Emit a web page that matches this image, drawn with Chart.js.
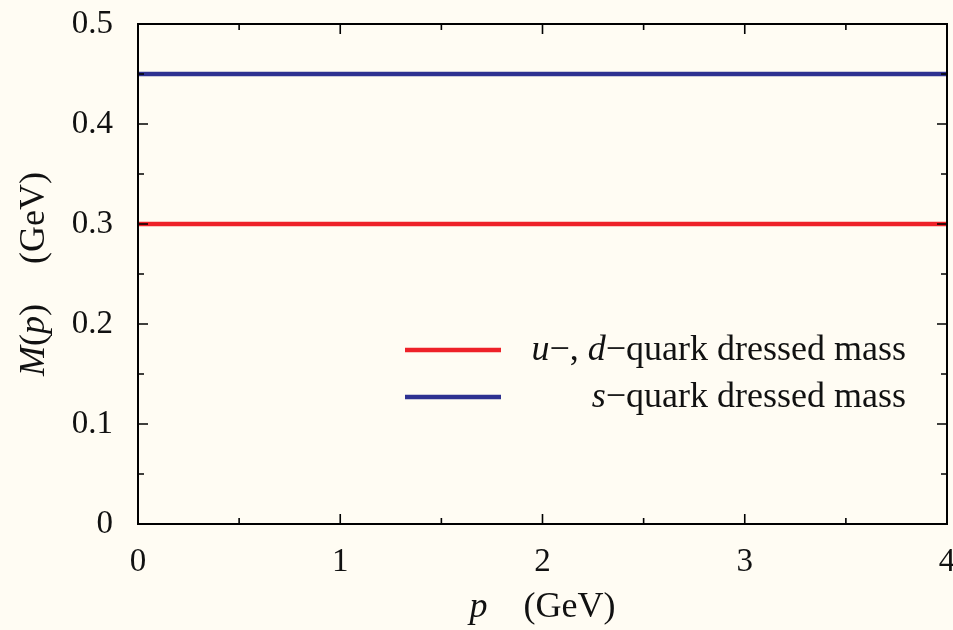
<!DOCTYPE html>
<html>
<head>
<meta charset="utf-8">
<script src="https://cdn.jsdelivr.net/npm/chart.js@4.4.1/dist/chart.umd.min.js"></script>
<style>
  html, body { margin: 0; padding: 0; background: #fffcf3; }
  #wrap { width: 953px; height: 630px; }
</style>
</head>
<body>
<div id="wrap"><canvas id="c" width="953" height="630"></canvas></div>
<script>
// data
const momenta = [0, 4];            // p (GeV)
const udMass = [0.3, 0.3];         // u-, d-quark dressed mass (GeV)
const sMass = [0.45, 0.45];        // s-quark dressed mass (GeV)
const xTicks = [0, 1, 2, 3, 4];
const yTicks = [0, 0.1, 0.2, 0.3, 0.4, 0.5];
const xMinor = [0.5, 1.5, 2.5, 3.5];
const yMinor = [0.05, 0.15, 0.25, 0.35, 0.45];

const serif = "'Liberation Serif', 'DejaVu Serif', serif";
const red = '#ee2128';
const blue = '#2e3191';

// text pieces: [text, italic] or a number = gap in px
const legendParts = [
  [['u', true], ['\u2212, ', false], ['d', true], ['\u2212quark dressed mass', false]],
  [['s', true], ['\u2212quark dressed mass', false]]
];
const xTitle = [['p', true], 36, ['(GeV)', false]];
const yTitle = [['M', true], ['(', false], ['p', true], [')', false], 40, ['(GeV)', false]];

function drawParts(ctx, parts, x, y, size, align) {
  const w = p => {
    if (typeof p === 'number') return p;
    ctx.font = (p[1] ? 'italic ' : '') + size + 'px ' + serif;
    return ctx.measureText(p[0]).width;
  };
  const total = parts.reduce((s, p) => s + w(p), 0);
  let cx = align === 'right' ? x - total : align === 'center' ? x - total / 2 : x;
  parts.forEach(p => {
    const pw = w(p);
    if (typeof p !== 'number') ctx.fillText(p[0], cx, y);
    cx += pw;
  });
}

const framePlugin = {
  id: 'frame',
  afterDraw(chart) {
    const ctx = chart.ctx;
    const a = chart.chartArea;
    const xs = chart.scales.x, ys = chart.scales.y;
    ctx.save();
    ctx.strokeStyle = '#000';
    ctx.lineWidth = 2;
    ctx.strokeRect(a.left, a.top, a.right - a.left, a.bottom - a.top);
    ctx.lineWidth = 1.6;
    ctx.beginPath();
    const tick = (vals, len) => {
      vals.forEach(v => {
        const px = xs.getPixelForValue(v);
        ctx.moveTo(px, a.bottom); ctx.lineTo(px, a.bottom - len);
        ctx.moveTo(px, a.top); ctx.lineTo(px, a.top + len);
      });
    };
    const ytick = (vals, len) => {
      vals.forEach(v => {
        const py = ys.getPixelForValue(v);
        ctx.moveTo(a.left, py); ctx.lineTo(a.left + len, py);
        ctx.moveTo(a.right, py); ctx.lineTo(a.right - len, py);
      });
    };
    tick(xTicks, 10); tick(xMinor, 6);
    ytick(yTicks, 10); ytick(yMinor, 6);
    ctx.stroke();

    // axis titles
    ctx.fillStyle = '#111';
    ctx.textBaseline = 'alphabetic';
    drawParts(ctx, xTitle, (a.left + a.right) / 2, 617, 36, 'center');
    ctx.save();
    ctx.translate(44, (a.top + a.bottom) / 2);
    ctx.rotate(-Math.PI / 2);
    drawParts(ctx, yTitle, 0, 0, 36, 'center');
    ctx.restore();

    // legend
    const rows = [350, 397];
    chart.data.datasets.forEach((ds, i) => {
      ctx.strokeStyle = ds.borderColor;
      ctx.lineWidth = 4.5;
      ctx.beginPath();
      ctx.moveTo(405, rows[i]);
      ctx.lineTo(501, rows[i]);
      ctx.stroke();
      drawParts(ctx, legendParts[i], 906, rows[i] + 10, 36, 'right');
    });
    ctx.restore();
  }
};

new Chart(document.getElementById('c'), {
  type: 'line',
  data: {
    datasets: [
      { label: 'u-, d-quark dressed mass', data: momenta.map((p, i) => ({ x: p, y: udMass[i] })),
        borderColor: red, borderWidth: 4.5, pointRadius: 0 },
      { label: 's-quark dressed mass', data: momenta.map((p, i) => ({ x: p, y: sMass[i] })),
        borderColor: blue, borderWidth: 4.5, pointRadius: 0 }
    ]
  },
  options: {
    responsive: false,
    animation: false,
    layout: { padding: { top: 24, right: 6, left: 0, bottom: 0 } },
    plugins: { legend: { display: false }, tooltip: { enabled: false } },
    scales: {
      x: {
        type: 'linear', min: 0, max: 4,
        afterFit(s) { s.height = 106; s.paddingLeft = 0; s.paddingRight = 0; },
        afterBuildTicks(s) { s.ticks = xTicks.map(v => ({ value: v })); },
        grid: { display: false, drawTicks: false },
        border: { display: false },
        ticks: { padding: 19, color: '#111', font: { family: serif, size: 33 } }
      },
      y: {
        type: 'linear', min: 0, max: 0.5,
        afterFit(s) { s.width = 138; s.paddingTop = 0; s.paddingBottom = 0; },
        afterBuildTicks(s) { s.ticks = yTicks.map(v => ({ value: v })); },
        grid: { display: false, drawTicks: false },
        border: { display: false },
        ticks: { padding: 25, color: '#111', font: { family: serif, size: 33 },
                 callback: v => String(v) }
      }
    }
  },
  plugins: [framePlugin]
});
</script>
</body>
</html>
